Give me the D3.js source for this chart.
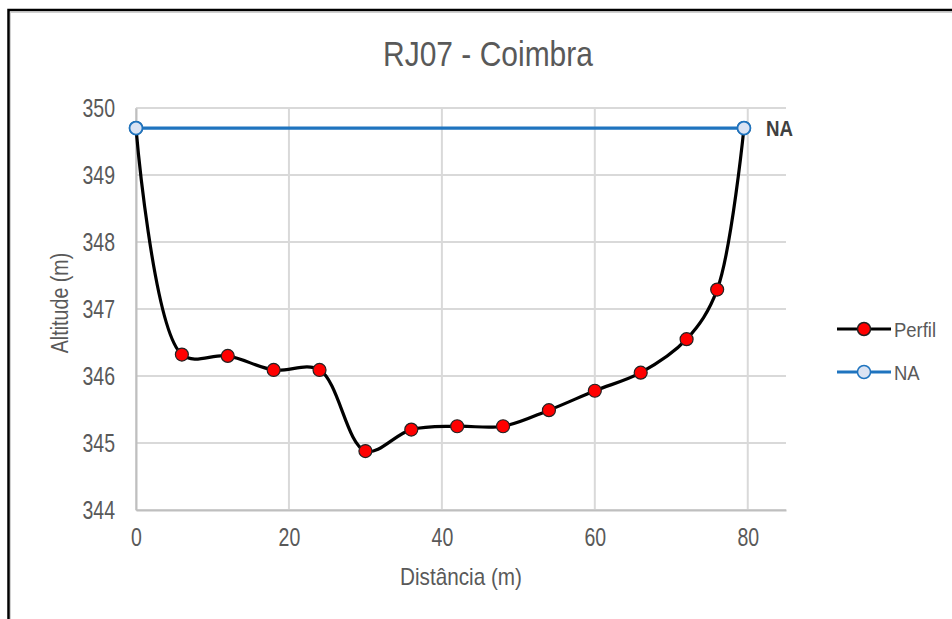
<!DOCTYPE html>
<html>
<head>
<meta charset="utf-8">
<script src="https://cdn.jsdelivr.net/npm/d3@7"></script>
<style>
  html, body { margin: 0; padding: 0; background: #ffffff; }
  svg { display: block; }
  text { font-family: "Liberation Sans", Arial, sans-serif; }
</style>
</head>
<body>
<svg id="chart" width="952" height="619"></svg>
<script>
// ---- data ----
const title = "RJ07 - Coimbra";
const xTitle = "Distância (m)";
const yTitle = "Altitude (m)";
const distance = [0, 6, 12, 18, 24, 30, 36, 42, 48, 54, 60, 66, 72, 76, 79.5];
const perfil   = [349.7, 346.32, 346.30, 346.09, 346.09, 344.88, 345.20, 345.25, 345.25, 345.49, 345.78, 346.05, 346.55, 347.29, 349.7];
const naDistance = [0, 79.5];
const naLevel    = [349.7, 349.7];
const xTicks = [0, 20, 40, 60, 80];
const yTicks = [344, 345, 346, 347, 348, 349, 350];
const seriesNames = ["Perfil", "NA"];

// ---- layout ----
const svg = d3.select("#chart");
const plot = { left: 136, right: 786, top: 108, bottom: 510 };
const x = d3.scaleLinear().domain([0, 85]).range([plot.left, plot.right]);
const y = d3.scaleLinear().domain([344, 350]).range([plot.bottom, plot.top]);

const gray = "#595959";
const gridColor = "#d9d9d9";
const naBlue = "#1f74bf";

// narrow-text helper (horizontal compression to mimic a condensed face)
function narrowText(parent, px, py, str, size, sx, opts = {}) {
  const t = parent.append("text")
    .attr("transform", `translate(${px},${py})` + (opts.rotate ? ` rotate(${opts.rotate})` : "") + ` scale(${sx},1)`)
    .attr("font-size", size).attr("fill", opts.fill || gray)
    .attr("text-anchor", opts.anchor || "start")
    .text(str);
  if (opts.bold) t.attr("font-weight", "bold");
  return t;
}

// outer frame
svg.append("rect").attr("x", 10.5).attr("y", 12.5).attr("width", 1000).attr("height", 1000)
  .attr("fill", "none").attr("stroke", "#d0d0d0").attr("stroke-width", 1);
svg.append("rect").attr("x", 8.5).attr("y", 10).attr("width", 1000).attr("height", 1000)
  .attr("fill", "none").attr("stroke", "#000").attr("stroke-width", 2.5);

// title
narrowText(svg, 488, 66, title, 35, 0.857, { anchor: "middle" });

// gridlines
const grid = svg.append("g");
grid.selectAll("line.h").data(yTicks).join("line")
  .attr("x1", plot.left).attr("x2", plot.right)
  .attr("y1", d => y(d)).attr("y2", d => y(d))
  .attr("stroke", gridColor).attr("stroke-width", 2);
grid.selectAll("line.v").data(xTicks).join("line")
  .attr("x1", d => x(d)).attr("x2", d => x(d))
  .attr("y1", plot.top).attr("y2", plot.bottom)
  .attr("stroke", gridColor).attr("stroke-width", 2);

// axes
const tickScale = 0.78;
const xAxis = svg.append("g").attr("transform", `translate(0,${plot.bottom})`)
  .call(d3.axisBottom(x).tickValues(xTicks).tickSize(0).tickPadding(18).tickFormat(d3.format("d")));
xAxis.select(".domain").attr("stroke", "#bfbfbf").attr("stroke-width", 2);
xAxis.selectAll("text").attr("font-size", 25).attr("fill", gray).attr("font-family", null)
  .attr("transform", `scale(${tickScale},1)`);

const yAxis = svg.append("g").attr("transform", `translate(${plot.left},0)`)
  .call(d3.axisLeft(y).tickValues(yTicks).tickSize(0).tickPadding(21).tickFormat(d3.format("d")));
yAxis.select(".domain").attr("stroke", "#bfbfbf").attr("stroke-width", 2);
yAxis.selectAll("text").attr("font-size", 25).attr("fill", gray).attr("font-family", null)
  .attr("x", -21 / tickScale).attr("transform", `scale(${tickScale},1)`);

// axis titles
narrowText(svg, (plot.left + plot.right) / 2, 585, xTitle, 23, 0.9, { anchor: "middle" });
narrowText(svg, 68, (plot.top + plot.bottom) / 2 - 6, yTitle, 24, 0.82, { anchor: "middle", rotate: -90 });

// Perfil smoothed line
const perfilData = distance.map((d, i) => ({ x: d, y: perfil[i] }));
const naData = naDistance.map((d, i) => ({ x: d, y: naLevel[i] }));
const smooth = d3.line().x(d => x(d.x)).y(d => y(d.y)).curve(d3.curveCatmullRom.alpha(0.5));
const straight = d3.line().x(d => x(d.x)).y(d => y(d.y));

svg.append("path").datum(perfilData).attr("d", smooth)
  .attr("fill", "none").attr("stroke", "#000").attr("stroke-width", 3.2);
svg.selectAll("circle.perfil").data(perfilData).join("circle")
  .attr("cx", d => x(d.x)).attr("cy", d => y(d.y)).attr("r", 6.5)
  .attr("fill", "#ff0000").attr("stroke", "#222").attr("stroke-width", 1.2);

// NA line
svg.append("path").datum(naData).attr("d", straight)
  .attr("fill", "none").attr("stroke", naBlue).attr("stroke-width", 3.2);
svg.selectAll("circle.na").data(naData).join("circle")
  .attr("cx", d => x(d.x)).attr("cy", d => y(d.y)).attr("r", 6.5)
  .attr("fill", "#dae3f3").attr("stroke", naBlue).attr("stroke-width", 1.8);

// NA data label
narrowText(svg, x(naData[1].x) + 22, y(naData[1].y) + 8, seriesNames[1], 22, 0.85, { bold: true, fill: "#404040" });

// legend
const legend = svg.append("g");
const legendRows = [
  { name: seriesNames[0], stroke: "#000", fill: "#ff0000", mstroke: "#222", yPos: 329 },
  { name: seriesNames[1], stroke: naBlue, fill: "#dae3f3", mstroke: naBlue, yPos: 372 }
];
legendRows.forEach(r => {
  legend.append("line").attr("x1", 837).attr("x2", 891).attr("y1", r.yPos).attr("y2", r.yPos)
    .attr("stroke", r.stroke).attr("stroke-width", 3.2);
  legend.append("circle").attr("cx", 864).attr("cy", r.yPos).attr("r", 6.5)
    .attr("fill", r.fill).attr("stroke", r.mstroke).attr("stroke-width", 1.5);
  narrowText(legend, 894, r.yPos + 7.5, r.name, 21, 0.88);
});
</script>
</body>
</html>
